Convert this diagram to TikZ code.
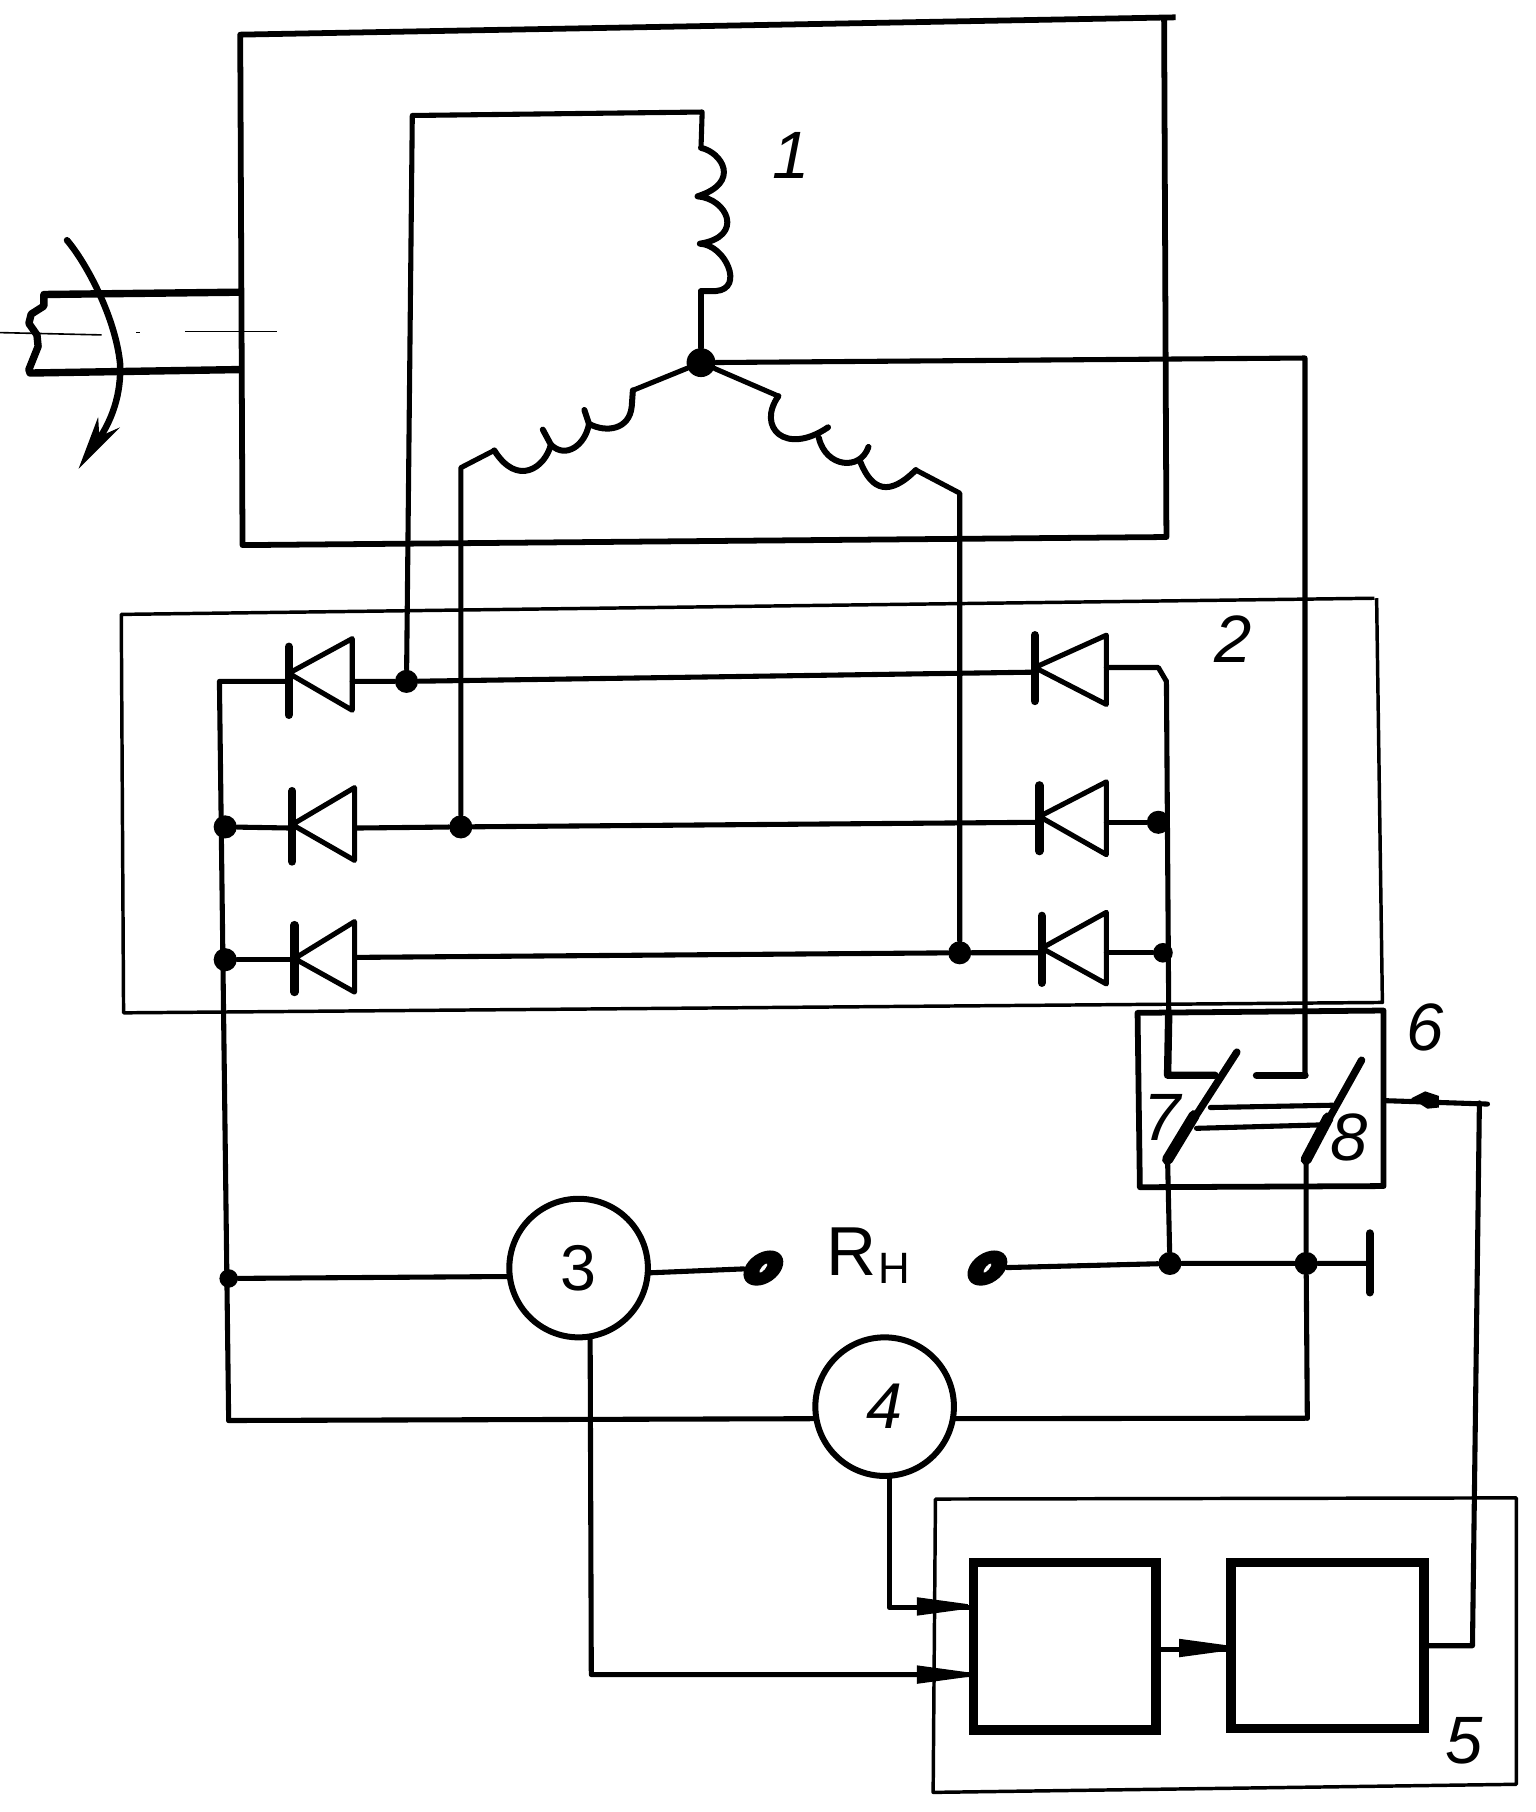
\documentclass[tikz,border=0pt]{standalone}
\usepackage{fontspec}
\setmainfont{Liberation Sans}
\usetikzlibrary{calc,shapes.geometric}
\tikzset{
  x=0.5pt,y=-0.5pt,
  wire/.style={draw=black,line width=2.2pt,line join=round,line cap=round},
  coil/.style={draw=black,line width=2.6pt,line join=round,line cap=round},
  thickwire/.style={draw=black,line width=3.2pt,line join=round,line cap=round},
  thinbox/.style={draw=black,line width=1.5pt,line join=round},
  mainbox/.style={draw=black,line width=2.5pt,line join=round},
  axisline/.style={draw=black,line width=0.7pt},
  dotmark/.style={circle,fill=black,inner sep=0pt,minimum size=10pt},
  bigdot/.style={circle,fill=black,inner sep=0pt,minimum size=12.5pt},
  meter/.style={circle,draw=black,line width=2.6pt,minimum size=60pt,inner sep=0pt,outer sep=0pt,font=\fontsize{28}{28}\selectfont},
  block/.style={rectangle,draw=black,line width=4pt,inner sep=0pt,outer sep=0pt},
  lab/.style={inner sep=0pt,font=\fontsize{29}{29}\selectfont\itshape},
  blade/.style={draw=black,line width=3.2pt,line cap=round},
  bladelow/.style={draw=black,line width=4.8pt,line cap=round},
  diodebar/.style={draw=black,line width=3.6pt,line cap=round},
  termblob/.style={fill=black,ellipse,inner sep=0pt,minimum width=19pt,minimum height=13pt,rotate=35},
  termhole/.style={fill=white,ellipse,inner sep=0pt,minimum width=5pt,minimum height=1.6pt,rotate=50},
}
\newcommand{\mydiode}[7]{%
  \draw[diodebar] (#1,#2) -- (#1,#3);
  \draw[wire] (#1,#7) -- (#4,#5) -- (#4,#6) -- cycle;
}
\newcommand{\arrowmark}[2]{%
  \fill (#1,{#2-8}) -- ({#1+44},{#2-2}) -- ({#1+44},{#2+2}) -- (#1,{#2+8}) -- cycle;
}
\begin{document}
\begin{tikzpicture}
\useasboundingbox (0,0) rectangle (1330,1569);
% junctions
\node[bigdot] (star) at (607,314) {};
\node[dotmark] (ja) at (352,590) {};
\node[dotmark] (jb) at (399,716) {};
\node[dotmark] (jc) at (831,825) {};
\node[dotmark] (jl2) at (195,716) {};
\node[dotmark] (jl3) at (195,831) {};
\node[dotmark,minimum size=8pt] (jl4) at (198,1107) {};
\node[dotmark] (jr2) at (1003,712) {};
\node[dotmark,minimum size=8.5pt] (jr3) at (1007,825) {};
\node[dotmark] (jo7) at (1013,1094) {};
\node[dotmark] (jo8) at (1131,1094) {};
\coordinate (lt) at (190,590);
\coordinate (lb) at (198,1230);
\coordinate (rt) at (1010,590);
\coordinate (c7) at (1011,931);
\coordinate (c7e) at (1052,931);
\coordinate (c8) at (1130,931);
\coordinate (c8e) at (1088,931);
\coordinate (starr) at (1130,310);
\coordinate (b7) at (1011,1004);
\coordinate (b8) at (1131,1004);
\coordinate (b7m) at (1034,966);
\coordinate (b8m) at (1150,968);
\coordinate (earth) at (1186,1094);
\coordinate (rb) at (1132,1228);
% machine box
\draw[mainbox] (1018,15) -- (208,30) -- (210,472) -- (1010,465) -- (1008,17);
% shaft
\draw[thickwire] (207,253) -- (38,255) -- (38,265) -- (27,272) -- (25,280) -- (32,290) -- (33,300) -- (25,320) -- (26,323) -- (207,320);
\draw[axisline] (0,288) -- (88,290);
\draw[axisline] (118,288) -- (121,288);
\draw[axisline] (160,287) -- (240,287);
% rotation arrow
\draw[wire,line width=2.8pt] (58,208) .. controls (75,228) and (100,275) .. (104,315) .. controls (105,340) and (98,365) .. (80,388);
\fill (68,406) -- (85,361) -- (86,378) -- (104,370) -- cycle;
% windings
\draw[wire] (ja) -- (357,100) -- (608,97) -- (607,128);
\draw[coil] (607,128)
  .. controls (625,132) and (642,158) .. (604,170)
  .. controls (630,172) and (645,205) .. (606,211)
  .. controls (628,212) and (645,250) .. (620,252) -- (607,252);
\draw[wire] (607,252) -- (star);
\draw[wire] (star) -- (548,338);
\draw[coil] (548,338) -- (547,352) .. controls (545,372) and (525,375) .. (510,367) -- (506,355);
\draw[coil] (510,367) .. controls (507,385) and (490,398) .. (477,385) -- (470,372);
\draw[coil] (477,385) .. controls (472,405) and (448,422) .. (428,390);
\draw[wire] (428,390) -- (399,405) -- (jb);
\draw[wire] (star) -- (674,343);
\draw[coil] (674,343) .. controls (655,370) and (680,395) .. (717,370);
\draw[coil] (709,379) .. controls (715,405) and (745,408) .. (752,387);
\draw[coil] (745,400) .. controls (755,425) and (770,430) .. (793,407);
\draw[wire] (793,407) -- (831,427) -- (jc);
\draw[wire] (star) -- (starr) -- (c8) -- (c8e);
% rectifier box
\draw[thinbox] (1190,518) -- (105,532) -- (107,877) -- (1197,868) -- (1192,518);
% diodes
\mydiode{250}{560}{619}{305}{553}{615}{583}
\mydiode{253}{685}{746}{307}{682}{745}{714}
\mydiode{255}{801}{859}{307}{798}{859}{830}
\mydiode{896}{550}{607}{958}{550}{610}{578}
\mydiode{900}{680}{737}{958}{677}{740}{707}
\mydiode{902}{793}{851}{958}{790}{852}{821}
% rows
\draw[wire] (250,590) -- (lt) -- (lb);
\draw[wire] (305,590) -- (ja) -- (896,582);
\draw[wire] (958,578) -- (1003,578) -- (rt);
\draw[wire] (jl2) -- (253,717);
\draw[wire] (307,717) -- (jb) -- (900,712);
\draw[wire] (958,712) -- (jr2);
\draw[wire] (jl3) -- (255,831);
\draw[wire] (307,829) -- (jc) -- (902,825);
\draw[wire] (958,825) -- (jr3);
\draw[wire] (rt) -- (1012,877);
\draw[thickwire] (1012,877) -- (c7) -- (c7e);
\draw[thickwire] (c8e) -- (c8);
% switch box
\draw[mainbox] (985,877) -- (1198,875) -- (1198,1027) -- (987,1028) -- cycle;
\draw[blade] (b7) -- (1071,911);
\draw[blade] (b8) -- (1179,918);
\draw[bladelow] (b7) -- (b7m);
\draw[bladelow] (b8) -- (b8m);
\draw[wire] (1048,959) -- (1154,957);
\draw[wire] (1036,977) -- (1145,974);
\node[lab] (l7) at (1006,968) {7};
\node[lab] (l8) at (1168,985) {8};
\node[lab] (l6) at (1234,890) {6};
\draw[wire] (b7) -- (jo7);
\draw[wire] (b8) -- (jo8) -- (rb);
% load line
\node[meter] (m3) at (501,1098) {3};
\node[meter,font=\fontsize{28}{28}\selectfont\itshape] (m4) at (766,1218) {4};
\draw[wire] (jl4) -- (m3.187);
\node[termblob] (t1) at (661,1098) {};
\node[termhole] at (661,1098) {};
\node[termblob] (t2) at (855,1098) {};
\node[termhole] at (855,1098) {};
\draw[wire] (m3.356) -- (t1);
\draw[wire] (t2) -- (jo7) -- (jo8) -- (earth);
\draw[diodebar] (1186,1068) -- (1186,1119);
\draw[wire] (lb) -- (m4.190);
\draw[wire] (m4.350) -- (rb);
\node[inner sep=0pt,font=\fontsize{30}{30}\selectfont] (rh) at (752,1087) {R\kern1pt\raisebox{-3.5pt}{\fontsize{19}{19}\selectfont Н}};
% control box
\draw[thinbox] (810,1298) -- (1313,1297) -- (1313,1545) -- (808,1552) -- cycle;
\node[block,minimum width=79pt,minimum height=72.5pt] (bA) at (922,1425.5) {};
\node[block,minimum width=83.5pt,minimum height=72pt] (bB) at (1149.5,1425) {};
\coordinate (i1) at (770,1392);
\coordinate (i2) at (512,1450);
\coordinate (o1) at (1275,1425);
\coordinate (o2) at (1281,955);
\coordinate (s4) at (770,1278);
\coordinate (s3) at (511,1158);
\coordinate (a1) at (1003,1428);
\coordinate (a2) at (1065,1428);
\coordinate (a3) at (1236,1425);
\draw[wire] (s4) -- (i1) -- (bA.west |- i1);
\draw[wire] (s3) -- (i2) -- (bA.west |- i2);
\arrowmark{794}{1391}
\arrowmark{794}{1450}
\draw[wire] (a1) -- (a2);
\arrowmark{1021}{1427}
\draw[wire] (a3) -- (o1) -- (o2);
\draw[wire] (1198,953) -- (1288,956);
\fill (1222,951) -- (1234,945) -- (1246,949) -- (1246,959) -- (1236,960) -- cycle;
\node[lab] (l1) at (685,135) {1};
\node[lab] (l2) at (1068,553) {2};
\node[lab] (l5) at (1268,1507) {5};
\end{tikzpicture}
\end{document}
